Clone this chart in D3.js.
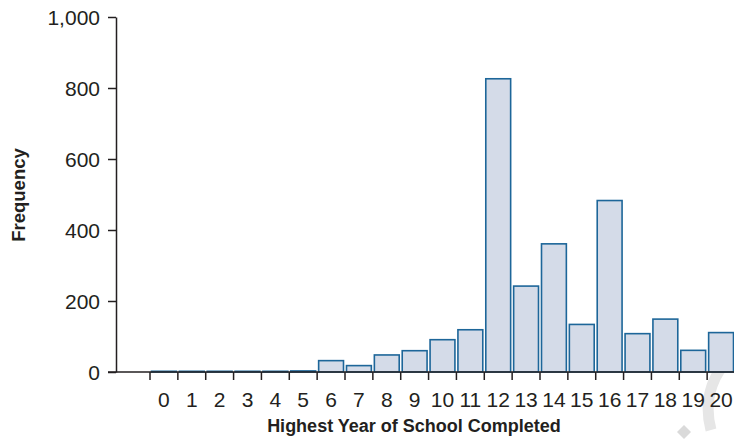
<!DOCTYPE html>
<html><head><meta charset="utf-8">
<script src="https://cdn.jsdelivr.net/npm/d3@7"></script>
<style>html,body{margin:0;padding:0;background:#fff}svg{display:block}</style>
</head><body>
<script>
const categories = ["0","1","2","3","4","5","6","7","8","9","10","11","12","13","14","15","16","17","18","19","20"];
const frequencies = [2,2,2,2,2,3,32,18,48,60,91,119,826,242,361,134,483,108,149,61,111];
const yTicks = [0,200,400,600,800,1000];
const xTitle = "Highest Year of School Completed";
const yTitle = "Frequency";

const W = 734, H = 445;
const ink = "#231f20";
const font = "Liberation Sans, Arial, sans-serif";
const svg = d3.select("body").append("svg").attr("width", W).attr("height", H);

const x = d3.scaleBand().domain(categories).range([150, 735]).padding(0);
const y = d3.scaleLinear().domain([0, 1000]).range([372, 17]);

// watermark
svg.append("path").attr("d", "M684,425 l7,7 l-7,7 l-7,-7 z").attr("fill", "#dadada");
svg.append("path").attr("d", "M711,430 C703,400 712,368 740,352")
  .attr("fill", "none").attr("stroke", "#e6e6e6").attr("stroke-width", 11);

// bars
svg.append("g").selectAll("rect").data(categories).join("rect")
  .attr("x", d => x(d) + 1.5)
  .attr("width", x.bandwidth() - 3)
  .attr("y", (d, i) => y(frequencies[i]))
  .attr("height", (d, i) => y(0) - y(frequencies[i]))
  .attr("fill", "#d4dbe8")
  .attr("stroke", "#1d6699")
  .attr("stroke-width", 1.6);

// y axis
const yAxis = d3.axisLeft(y).tickValues(yTicks).tickFormat(d3.format(",")).tickSize(8).tickSizeOuter(0).tickPadding(8);
const gy = svg.append("g").attr("transform", "translate(116,0)").call(yAxis);
gy.select(".domain").attr("stroke", ink).attr("stroke-width", 1.5);
gy.selectAll(".tick line").attr("stroke", ink).attr("stroke-width", 1.5);
gy.selectAll(".tick text").attr("fill", ink).style("font-family", font).style("font-size", "21px").attr("dy", "0.35em");

// x baseline
svg.append("line").attr("x1", 108).attr("x2", W).attr("y1", y(0)).attr("y2", y(0))
  .attr("stroke", ink).attr("stroke-width", 1.5);

// x axis: ticks at left edge of each band, labels centred
const gx = svg.append("g").attr("transform", `translate(0,${y(0)})`);
gx.selectAll("line").data(categories).join("line")
  .attr("x1", d => x(d)).attr("x2", d => x(d)).attr("y1", 0).attr("y2", 8)
  .attr("stroke", ink).attr("stroke-width", 1.5);
gx.selectAll("text").data(categories).join("text")
  .attr("x", d => x(d) + x.bandwidth() / 2).attr("y", 34.5)
  .attr("text-anchor", "middle").attr("fill", ink)
  .style("font-family", font).style("font-size", "21px")
  .text(d => d);

// titles
svg.append("text").attr("x", 414).attr("y", 432).attr("text-anchor", "middle")
  .attr("fill", ink).style("font-family", font)
  .style("font-size", "18px").style("font-weight", "bold").text(xTitle);
svg.append("text").attr("transform", "translate(25,195) rotate(-90)").attr("text-anchor", "middle")
  .attr("fill", ink).style("font-family", font)
  .style("font-size", "18.5px").style("font-weight", "bold").text(yTitle);
</script>
</body></html>
